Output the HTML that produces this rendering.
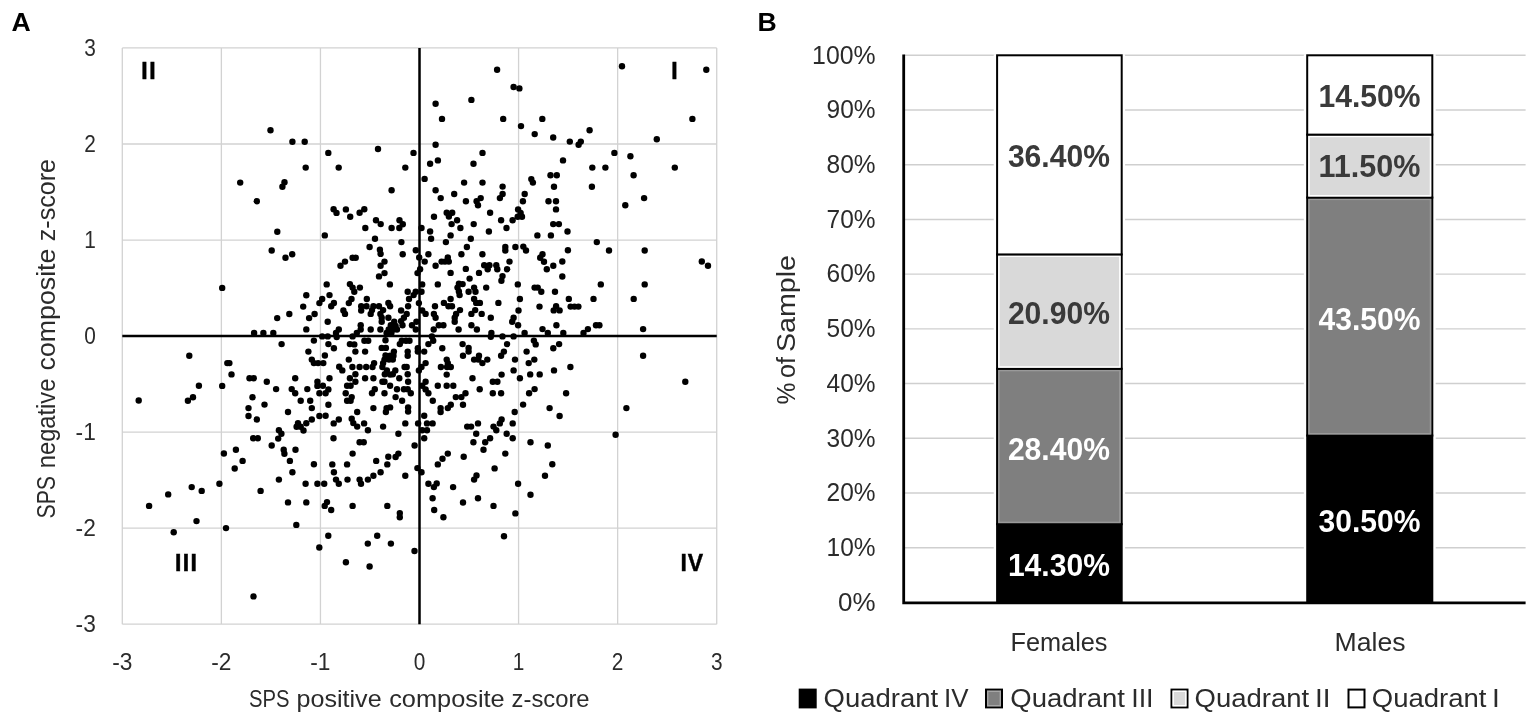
<!DOCTYPE html>
<html lang="en"><head><meta charset="utf-8"><title>Figure</title>
<style>html,body{margin:0;padding:0;background:#fff}svg{display:block}text{font-family:"Liberation Sans","DejaVu Sans",sans-serif}</style></head><body>
<svg width="1535" height="722" viewBox="0 0 1535 722">
<rect width="1535" height="722" fill="#fff"/>
<g id="panelA">
<path d="M122.30 47.95V624.19M122.30 624.19H716.72M221.37 47.95V624.19M122.30 528.15H716.72M320.44 47.95V624.19M122.30 432.11H716.72M518.58 47.95V624.19M122.30 240.03H716.72M617.65 47.95V624.19M122.30 143.99H716.72M716.72 47.95V624.19M122.30 47.95H716.72" stroke="#d2d2d2" stroke-width="1.3" fill="none"/>
<path d="M419.51 47.95V624.19M122.30 336.07H716.72" stroke="#000" stroke-width="2.5" fill="none"/>
<g fill="#000">
<circle cx="270.5" cy="130.2" r="3.2"/><circle cx="292.4" cy="141.8" r="3.2"/><circle cx="304.7" cy="141.8" r="3.2"/><circle cx="497.1" cy="69.8" r="3.2"/><circle cx="513.6" cy="87.0" r="3.2"/><circle cx="519.4" cy="88.4" r="3.2"/><circle cx="471.4" cy="99.9" r="3.2"/><circle cx="435.6" cy="103.8" r="3.2"/><circle cx="442.0" cy="118.9" r="3.2"/><circle cx="503.2" cy="118.9" r="3.2"/><circle cx="542.3" cy="118.9" r="3.2"/><circle cx="521.0" cy="126.1" r="3.2"/><circle cx="534.7" cy="134.1" r="3.2"/><circle cx="553.2" cy="137.5" r="3.2"/><circle cx="569.8" cy="141.6" r="3.2"/><circle cx="580.8" cy="141.6" r="3.2"/><circle cx="578.6" cy="144.7" r="3.2"/><circle cx="589.6" cy="130.2" r="3.2"/><circle cx="435.6" cy="144.7" r="3.2"/><circle cx="622.0" cy="66.3" r="3.2"/><circle cx="706.3" cy="69.8" r="3.2"/><circle cx="692.4" cy="118.9" r="3.2"/><circle cx="656.8" cy="139.2" r="3.2"/><circle cx="305.7" cy="167.6" r="3.2"/><circle cx="240.2" cy="182.6" r="3.2"/><circle cx="284.5" cy="182.3" r="3.2"/><circle cx="282.4" cy="186.8" r="3.2"/><circle cx="256.8" cy="201.2" r="3.2"/><circle cx="277.3" cy="231.7" r="3.2"/><circle cx="328.3" cy="152.9" r="3.2"/><circle cx="378.0" cy="149.0" r="3.2"/><circle cx="413.5" cy="152.9" r="3.2"/><circle cx="338.7" cy="167.6" r="3.2"/><circle cx="405.3" cy="167.6" r="3.2"/><circle cx="391.6" cy="190.3" r="3.2"/><circle cx="333.6" cy="209.2" r="3.2"/><circle cx="336.5" cy="212.9" r="3.2"/><circle cx="345.9" cy="209.4" r="3.2"/><circle cx="350.2" cy="216.7" r="3.2"/><circle cx="359.6" cy="212.7" r="3.2"/><circle cx="364.3" cy="209.2" r="3.2"/><circle cx="376.0" cy="220.2" r="3.2"/><circle cx="380.7" cy="224.1" r="3.2"/><circle cx="365.3" cy="228.0" r="3.2"/><circle cx="391.6" cy="228.0" r="3.2"/><circle cx="399.5" cy="220.2" r="3.2"/><circle cx="402.8" cy="224.3" r="3.2"/><circle cx="399.3" cy="228.0" r="3.2"/><circle cx="324.8" cy="235.4" r="3.2"/><circle cx="375.0" cy="238.7" r="3.2"/><circle cx="401.4" cy="242.1" r="3.2"/><circle cx="482.5" cy="152.9" r="3.2"/><circle cx="437.9" cy="160.4" r="3.2"/><circle cx="430.1" cy="163.7" r="3.2"/><circle cx="473.5" cy="163.7" r="3.2"/><circle cx="424.6" cy="178.9" r="3.2"/><circle cx="464.1" cy="182.6" r="3.2"/><circle cx="482.5" cy="182.6" r="3.2"/><circle cx="502.6" cy="186.6" r="3.2"/><circle cx="435.6" cy="190.3" r="3.2"/><circle cx="454.2" cy="194.0" r="3.2"/><circle cx="502.6" cy="194.0" r="3.2"/><circle cx="440.7" cy="198.1" r="3.2"/><circle cx="480.7" cy="198.1" r="3.2"/><circle cx="499.9" cy="198.1" r="3.2"/><circle cx="465.9" cy="201.2" r="3.2"/><circle cx="476.6" cy="201.2" r="3.2"/><circle cx="478.0" cy="205.3" r="3.2"/><circle cx="446.7" cy="212.7" r="3.2"/><circle cx="452.2" cy="212.7" r="3.2"/><circle cx="448.9" cy="216.5" r="3.2"/><circle cx="490.1" cy="212.7" r="3.2"/><circle cx="434.0" cy="216.7" r="3.2"/><circle cx="457.1" cy="220.2" r="3.2"/><circle cx="451.6" cy="224.1" r="3.2"/><circle cx="473.7" cy="224.1" r="3.2"/><circle cx="501.1" cy="220.2" r="3.2"/><circle cx="512.6" cy="220.2" r="3.2"/><circle cx="460.4" cy="228.0" r="3.2"/><circle cx="506.5" cy="228.0" r="3.2"/><circle cx="421.5" cy="228.0" r="3.2"/><circle cx="430.1" cy="231.5" r="3.2"/><circle cx="488.9" cy="231.5" r="3.2"/><circle cx="450.6" cy="235.4" r="3.2"/><circle cx="431.1" cy="238.7" r="3.2"/><circle cx="470.8" cy="238.7" r="3.2"/><circle cx="445.9" cy="242.1" r="3.2"/><circle cx="518.1" cy="209.4" r="3.2"/><circle cx="520.6" cy="212.9" r="3.2"/><circle cx="517.7" cy="216.7" r="3.2"/><circle cx="522.0" cy="216.7" r="3.2"/><circle cx="563.0" cy="160.4" r="3.2"/><circle cx="614.4" cy="152.9" r="3.2"/><circle cx="592.3" cy="167.6" r="3.2"/><circle cx="605.4" cy="167.6" r="3.2"/><circle cx="550.5" cy="175.2" r="3.2"/><circle cx="556.8" cy="175.2" r="3.2"/><circle cx="531.3" cy="179.1" r="3.2"/><circle cx="532.9" cy="182.6" r="3.2"/><circle cx="554.0" cy="186.8" r="3.2"/><circle cx="591.9" cy="186.8" r="3.2"/><circle cx="524.7" cy="194.0" r="3.2"/><circle cx="522.9" cy="201.2" r="3.2"/><circle cx="548.5" cy="201.2" r="3.2"/><circle cx="556.0" cy="201.2" r="3.2"/><circle cx="556.0" cy="209.4" r="3.2"/><circle cx="553.2" cy="224.1" r="3.2"/><circle cx="558.9" cy="224.1" r="3.2"/><circle cx="567.5" cy="231.5" r="3.2"/><circle cx="537.4" cy="235.4" r="3.2"/><circle cx="550.9" cy="235.4" r="3.2"/><circle cx="596.8" cy="242.1" r="3.2"/><circle cx="630.4" cy="156.3" r="3.2"/><circle cx="674.8" cy="167.6" r="3.2"/><circle cx="633.6" cy="175.2" r="3.2"/><circle cx="644.1" cy="198.1" r="3.2"/><circle cx="625.3" cy="205.3" r="3.2"/><circle cx="271.7" cy="250.5" r="3.2"/><circle cx="285.5" cy="257.8" r="3.2"/><circle cx="292.2" cy="254.3" r="3.2"/><circle cx="222.2" cy="287.9" r="3.2"/><circle cx="306.3" cy="295.2" r="3.2"/><circle cx="303.2" cy="306.6" r="3.2"/><circle cx="289.3" cy="314.0" r="3.2"/><circle cx="277.2" cy="318.1" r="3.2"/><circle cx="309.1" cy="318.1" r="3.2"/><circle cx="314.6" cy="314.0" r="3.2"/><circle cx="319.4" cy="303.1" r="3.2"/><circle cx="306.3" cy="329.4" r="3.2"/><circle cx="254.1" cy="332.9" r="3.2"/><circle cx="263.4" cy="332.9" r="3.2"/><circle cx="273.3" cy="332.9" r="3.2"/><circle cx="369.6" cy="247.0" r="3.2"/><circle cx="379.9" cy="249.8" r="3.2"/><circle cx="380.6" cy="253.9" r="3.2"/><circle cx="402.7" cy="254.2" r="3.2"/><circle cx="415.8" cy="250.2" r="3.2"/><circle cx="384.5" cy="261.6" r="3.2"/><circle cx="380.6" cy="265.7" r="3.2"/><circle cx="384.5" cy="273.1" r="3.2"/><circle cx="379.0" cy="276.4" r="3.2"/><circle cx="417.5" cy="273.1" r="3.2"/><circle cx="419.2" cy="257.4" r="3.2"/><circle cx="352.6" cy="257.7" r="3.2"/><circle cx="355.7" cy="257.7" r="3.2"/><circle cx="345.0" cy="261.6" r="3.2"/><circle cx="340.5" cy="265.7" r="3.2"/><circle cx="326.7" cy="284.4" r="3.2"/><circle cx="349.9" cy="284.1" r="3.2"/><circle cx="352.6" cy="287.6" r="3.2"/><circle cx="354.3" cy="291.8" r="3.2"/><circle cx="359.9" cy="287.6" r="3.2"/><circle cx="389.9" cy="284.4" r="3.2"/><circle cx="329.5" cy="295.1" r="3.2"/><circle cx="322.2" cy="299.0" r="3.2"/><circle cx="333.9" cy="302.9" r="3.2"/><circle cx="331.2" cy="306.3" r="3.2"/><circle cx="351.5" cy="299.0" r="3.2"/><circle cx="348.8" cy="303.1" r="3.2"/><circle cx="366.8" cy="299.0" r="3.2"/><circle cx="407.7" cy="291.8" r="3.2"/><circle cx="415.7" cy="291.8" r="3.2"/><circle cx="413.6" cy="295.1" r="3.2"/><circle cx="409.0" cy="299.0" r="3.2"/><circle cx="418.9" cy="303.1" r="3.2"/><circle cx="388.4" cy="302.9" r="3.2"/><circle cx="390.1" cy="306.3" r="3.2"/><circle cx="361.2" cy="306.3" r="3.2"/><circle cx="366.5" cy="306.3" r="3.2"/><circle cx="373.4" cy="306.3" r="3.2"/><circle cx="379.0" cy="306.3" r="3.2"/><circle cx="361.2" cy="310.5" r="3.2"/><circle cx="372.0" cy="310.1" r="3.2"/><circle cx="370.7" cy="313.9" r="3.2"/><circle cx="383.1" cy="310.1" r="3.2"/><circle cx="380.4" cy="313.9" r="3.2"/><circle cx="381.7" cy="317.7" r="3.2"/><circle cx="381.7" cy="321.8" r="3.2"/><circle cx="388.4" cy="317.7" r="3.2"/><circle cx="343.4" cy="310.5" r="3.2"/><circle cx="345.0" cy="313.9" r="3.2"/><circle cx="401.1" cy="310.5" r="3.2"/><circle cx="408.1" cy="306.3" r="3.2"/><circle cx="406.7" cy="313.9" r="3.2"/><circle cx="403.9" cy="317.7" r="3.2"/><circle cx="401.1" cy="321.1" r="3.2"/><circle cx="402.5" cy="325.3" r="3.2"/><circle cx="327.7" cy="321.8" r="3.2"/><circle cx="360.7" cy="325.3" r="3.2"/><circle cx="360.7" cy="329.5" r="3.2"/><circle cx="370.7" cy="329.5" r="3.2"/><circle cx="380.4" cy="329.5" r="3.2"/><circle cx="338.8" cy="329.5" r="3.2"/><circle cx="336.0" cy="332.9" r="3.2"/><circle cx="356.8" cy="332.9" r="3.2"/><circle cx="412.0" cy="325.3" r="3.2"/><circle cx="416.4" cy="321.8" r="3.2"/><circle cx="415.8" cy="329.5" r="3.2"/><circle cx="394.2" cy="321.8" r="3.2"/><circle cx="390.8" cy="325.3" r="3.2"/><circle cx="395.6" cy="326.0" r="3.2"/><circle cx="388.7" cy="329.5" r="3.2"/><circle cx="393.5" cy="329.5" r="3.2"/><circle cx="397.0" cy="329.5" r="3.2"/><circle cx="386.6" cy="332.9" r="3.2"/><circle cx="391.4" cy="332.9" r="3.2"/><circle cx="322.2" cy="336.4" r="3.2"/><circle cx="327.7" cy="336.4" r="3.2"/><circle cx="352.6" cy="336.4" r="3.2"/><circle cx="466.9" cy="247.0" r="3.2"/><circle cx="505.3" cy="247.0" r="3.2"/><circle cx="505.3" cy="250.5" r="3.2"/><circle cx="515.4" cy="247.0" r="3.2"/><circle cx="428.4" cy="254.2" r="3.2"/><circle cx="461.4" cy="254.2" r="3.2"/><circle cx="482.4" cy="254.2" r="3.2"/><circle cx="447.8" cy="257.4" r="3.2"/><circle cx="424.7" cy="261.6" r="3.2"/><circle cx="441.6" cy="261.6" r="3.2"/><circle cx="445.0" cy="261.6" r="3.2"/><circle cx="448.8" cy="261.6" r="3.2"/><circle cx="509.5" cy="261.6" r="3.2"/><circle cx="435.6" cy="265.7" r="3.2"/><circle cx="484.2" cy="265.3" r="3.2"/><circle cx="489.4" cy="265.3" r="3.2"/><circle cx="487.7" cy="269.2" r="3.2"/><circle cx="496.3" cy="265.3" r="3.2"/><circle cx="497.3" cy="269.2" r="3.2"/><circle cx="507.1" cy="269.2" r="3.2"/><circle cx="420.1" cy="269.2" r="3.2"/><circle cx="465.8" cy="268.9" r="3.2"/><circle cx="450.6" cy="272.9" r="3.2"/><circle cx="479.0" cy="272.9" r="3.2"/><circle cx="502.5" cy="276.1" r="3.2"/><circle cx="501.4" cy="280.7" r="3.2"/><circle cx="469.6" cy="278.6" r="3.2"/><circle cx="422.2" cy="284.4" r="3.2"/><circle cx="437.8" cy="284.4" r="3.2"/><circle cx="458.9" cy="283.7" r="3.2"/><circle cx="462.6" cy="284.1" r="3.2"/><circle cx="457.5" cy="287.6" r="3.2"/><circle cx="458.9" cy="291.4" r="3.2"/><circle cx="459.6" cy="295.1" r="3.2"/><circle cx="474.1" cy="287.6" r="3.2"/><circle cx="475.5" cy="291.8" r="3.2"/><circle cx="468.6" cy="291.8" r="3.2"/><circle cx="486.2" cy="287.6" r="3.2"/><circle cx="517.8" cy="284.4" r="3.2"/><circle cx="421.5" cy="291.8" r="3.2"/><circle cx="450.6" cy="299.0" r="3.2"/><circle cx="474.1" cy="299.0" r="3.2"/><circle cx="476.2" cy="302.9" r="3.2"/><circle cx="479.9" cy="302.9" r="3.2"/><circle cx="498.4" cy="302.9" r="3.2"/><circle cx="443.9" cy="302.9" r="3.2"/><circle cx="435.0" cy="306.3" r="3.2"/><circle cx="448.5" cy="306.3" r="3.2"/><circle cx="452.0" cy="306.3" r="3.2"/><circle cx="460.0" cy="310.1" r="3.2"/><circle cx="475.2" cy="310.1" r="3.2"/><circle cx="471.4" cy="313.9" r="3.2"/><circle cx="481.7" cy="313.9" r="3.2"/><circle cx="456.1" cy="313.9" r="3.2"/><circle cx="454.7" cy="317.7" r="3.2"/><circle cx="454.7" cy="321.8" r="3.2"/><circle cx="433.9" cy="313.9" r="3.2"/><circle cx="435.6" cy="317.7" r="3.2"/><circle cx="422.2" cy="310.5" r="3.2"/><circle cx="425.6" cy="313.9" r="3.2"/><circle cx="490.8" cy="317.7" r="3.2"/><circle cx="513.6" cy="317.7" r="3.2"/><circle cx="512.2" cy="321.8" r="3.2"/><circle cx="518.5" cy="310.5" r="3.2"/><circle cx="518.1" cy="325.3" r="3.2"/><circle cx="438.8" cy="325.3" r="3.2"/><circle cx="443.4" cy="325.3" r="3.2"/><circle cx="433.7" cy="329.5" r="3.2"/><circle cx="458.6" cy="329.5" r="3.2"/><circle cx="471.4" cy="325.3" r="3.2"/><circle cx="476.9" cy="329.5" r="3.2"/><circle cx="491.4" cy="332.9" r="3.2"/><circle cx="431.9" cy="336.4" r="3.2"/><circle cx="502.5" cy="336.4" r="3.2"/><circle cx="513.6" cy="336.4" r="3.2"/><circle cx="519.9" cy="299.0" r="3.2"/><circle cx="609.0" cy="250.5" r="3.2"/><circle cx="567.9" cy="250.2" r="3.2"/><circle cx="523.3" cy="246.6" r="3.2"/><circle cx="526.0" cy="250.5" r="3.2"/><circle cx="542.5" cy="254.2" r="3.2"/><circle cx="540.2" cy="257.8" r="3.2"/><circle cx="544.0" cy="261.8" r="3.2"/><circle cx="562.3" cy="261.5" r="3.2"/><circle cx="553.3" cy="265.7" r="3.2"/><circle cx="546.8" cy="269.2" r="3.2"/><circle cx="562.3" cy="276.5" r="3.2"/><circle cx="600.8" cy="284.4" r="3.2"/><circle cx="534.6" cy="287.6" r="3.2"/><circle cx="537.7" cy="287.6" r="3.2"/><circle cx="541.3" cy="291.7" r="3.2"/><circle cx="555.0" cy="291.7" r="3.2"/><circle cx="568.8" cy="298.9" r="3.2"/><circle cx="593.5" cy="298.9" r="3.2"/><circle cx="539.5" cy="306.6" r="3.2"/><circle cx="556.1" cy="306.3" r="3.2"/><circle cx="553.7" cy="310.4" r="3.2"/><circle cx="559.6" cy="310.4" r="3.2"/><circle cx="570.6" cy="306.6" r="3.2"/><circle cx="574.5" cy="306.6" r="3.2"/><circle cx="578.4" cy="306.6" r="3.2"/><circle cx="556.4" cy="325.3" r="3.2"/><circle cx="596.0" cy="325.3" r="3.2"/><circle cx="599.4" cy="325.3" r="3.2"/><circle cx="587.9" cy="329.1" r="3.2"/><circle cx="583.5" cy="332.9" r="3.2"/><circle cx="542.5" cy="329.1" r="3.2"/><circle cx="547.8" cy="332.9" r="3.2"/><circle cx="563.3" cy="332.9" r="3.2"/><circle cx="524.6" cy="332.9" r="3.2"/><circle cx="644.7" cy="250.5" r="3.2"/><circle cx="701.8" cy="261.5" r="3.2"/><circle cx="708.0" cy="265.7" r="3.2"/><circle cx="644.7" cy="284.4" r="3.2"/><circle cx="633.7" cy="298.9" r="3.2"/><circle cx="643.1" cy="329.1" r="3.2"/><circle cx="189.3" cy="355.7" r="3.2"/><circle cx="138.7" cy="400.5" r="3.2"/><circle cx="198.9" cy="385.7" r="3.2"/><circle cx="193.0" cy="397.3" r="3.2"/><circle cx="187.9" cy="400.8" r="3.2"/><circle cx="222.2" cy="385.9" r="3.2"/><circle cx="227.3" cy="363.1" r="3.2"/><circle cx="229.4" cy="363.1" r="3.2"/><circle cx="231.5" cy="374.4" r="3.2"/><circle cx="249.5" cy="378.3" r="3.2"/><circle cx="253.7" cy="378.3" r="3.2"/><circle cx="266.8" cy="381.8" r="3.2"/><circle cx="281.6" cy="344.1" r="3.2"/><circle cx="313.9" cy="340.6" r="3.2"/><circle cx="308.4" cy="351.6" r="3.2"/><circle cx="311.8" cy="359.6" r="3.2"/><circle cx="313.9" cy="363.1" r="3.2"/><circle cx="318.1" cy="363.1" r="3.2"/><circle cx="295.2" cy="378.3" r="3.2"/><circle cx="276.1" cy="389.1" r="3.2"/><circle cx="291.7" cy="389.1" r="3.2"/><circle cx="295.2" cy="393.3" r="3.2"/><circle cx="307.3" cy="389.1" r="3.2"/><circle cx="317.4" cy="381.8" r="3.2"/><circle cx="317.4" cy="385.9" r="3.2"/><circle cx="319.4" cy="393.3" r="3.2"/><circle cx="252.5" cy="397.3" r="3.2"/><circle cx="264.5" cy="404.6" r="3.2"/><circle cx="248.5" cy="408.1" r="3.2"/><circle cx="248.5" cy="416.0" r="3.2"/><circle cx="256.8" cy="419.5" r="3.2"/><circle cx="300.7" cy="400.8" r="3.2"/><circle cx="310.2" cy="400.8" r="3.2"/><circle cx="311.8" cy="408.1" r="3.2"/><circle cx="288.0" cy="412.0" r="3.2"/><circle cx="311.8" cy="419.5" r="3.2"/><circle cx="319.4" cy="416.0" r="3.2"/><circle cx="306.3" cy="423.3" r="3.2"/><circle cx="298.0" cy="423.1" r="3.2"/><circle cx="296.6" cy="426.8" r="3.2"/><circle cx="300.7" cy="426.8" r="3.2"/><circle cx="303.5" cy="430.5" r="3.2"/><circle cx="278.9" cy="430.3" r="3.2"/><circle cx="281.4" cy="433.7" r="3.2"/><circle cx="336.7" cy="337.0" r="3.2"/><circle cx="364.4" cy="340.7" r="3.2"/><circle cx="368.2" cy="340.7" r="3.2"/><circle cx="385.5" cy="340.2" r="3.2"/><circle cx="401.8" cy="340.7" r="3.2"/><circle cx="406.0" cy="340.7" r="3.2"/><circle cx="409.5" cy="340.7" r="3.2"/><circle cx="328.4" cy="344.1" r="3.2"/><circle cx="349.9" cy="344.1" r="3.2"/><circle cx="354.3" cy="344.4" r="3.2"/><circle cx="399.8" cy="344.1" r="3.2"/><circle cx="333.9" cy="348.3" r="3.2"/><circle cx="381.7" cy="347.9" r="3.2"/><circle cx="385.9" cy="347.9" r="3.2"/><circle cx="417.8" cy="348.3" r="3.2"/><circle cx="355.4" cy="351.6" r="3.2"/><circle cx="365.1" cy="351.6" r="3.2"/><circle cx="393.9" cy="351.6" r="3.2"/><circle cx="407.7" cy="351.6" r="3.2"/><circle cx="417.8" cy="351.6" r="3.2"/><circle cx="324.9" cy="355.5" r="3.2"/><circle cx="385.5" cy="355.5" r="3.2"/><circle cx="390.1" cy="355.8" r="3.2"/><circle cx="393.5" cy="355.8" r="3.2"/><circle cx="407.7" cy="355.8" r="3.2"/><circle cx="348.8" cy="359.6" r="3.2"/><circle cx="384.5" cy="359.6" r="3.2"/><circle cx="389.0" cy="359.6" r="3.2"/><circle cx="392.8" cy="359.6" r="3.2"/><circle cx="323.3" cy="363.1" r="3.2"/><circle cx="374.1" cy="363.1" r="3.2"/><circle cx="383.1" cy="363.1" r="3.2"/><circle cx="339.2" cy="366.8" r="3.2"/><circle cx="352.4" cy="367.0" r="3.2"/><circle cx="359.6" cy="367.0" r="3.2"/><circle cx="366.2" cy="367.0" r="3.2"/><circle cx="372.5" cy="367.0" r="3.2"/><circle cx="382.4" cy="367.0" r="3.2"/><circle cx="404.6" cy="367.0" r="3.2"/><circle cx="406.7" cy="367.0" r="3.2"/><circle cx="342.3" cy="370.4" r="3.2"/><circle cx="386.9" cy="370.4" r="3.2"/><circle cx="395.3" cy="370.4" r="3.2"/><circle cx="418.9" cy="370.4" r="3.2"/><circle cx="355.4" cy="374.2" r="3.2"/><circle cx="384.8" cy="374.2" r="3.2"/><circle cx="390.1" cy="374.6" r="3.2"/><circle cx="392.8" cy="374.2" r="3.2"/><circle cx="407.7" cy="374.2" r="3.2"/><circle cx="329.5" cy="378.3" r="3.2"/><circle cx="349.9" cy="378.3" r="3.2"/><circle cx="365.1" cy="378.3" r="3.2"/><circle cx="373.4" cy="378.3" r="3.2"/><circle cx="399.3" cy="378.3" r="3.2"/><circle cx="355.4" cy="381.8" r="3.2"/><circle cx="382.4" cy="381.8" r="3.2"/><circle cx="384.5" cy="381.8" r="3.2"/><circle cx="408.1" cy="381.8" r="3.2"/><circle cx="322.9" cy="385.7" r="3.2"/><circle cx="347.1" cy="385.7" r="3.2"/><circle cx="350.6" cy="385.7" r="3.2"/><circle cx="390.1" cy="385.7" r="3.2"/><circle cx="328.4" cy="389.4" r="3.2"/><circle cx="374.8" cy="389.2" r="3.2"/><circle cx="397.0" cy="389.2" r="3.2"/><circle cx="403.9" cy="389.2" r="3.2"/><circle cx="407.7" cy="389.2" r="3.2"/><circle cx="325.6" cy="393.3" r="3.2"/><circle cx="345.7" cy="393.3" r="3.2"/><circle cx="372.0" cy="393.3" r="3.2"/><circle cx="384.5" cy="393.3" r="3.2"/><circle cx="410.8" cy="393.3" r="3.2"/><circle cx="351.7" cy="397.1" r="3.2"/><circle cx="395.6" cy="397.1" r="3.2"/><circle cx="347.1" cy="400.8" r="3.2"/><circle cx="350.6" cy="400.8" r="3.2"/><circle cx="402.1" cy="400.8" r="3.2"/><circle cx="328.4" cy="404.7" r="3.2"/><circle cx="373.4" cy="408.1" r="3.2"/><circle cx="386.6" cy="408.1" r="3.2"/><circle cx="390.1" cy="407.4" r="3.2"/><circle cx="408.1" cy="407.4" r="3.2"/><circle cx="357.2" cy="412.0" r="3.2"/><circle cx="385.9" cy="412.0" r="3.2"/><circle cx="408.1" cy="411.6" r="3.2"/><circle cx="325.6" cy="415.8" r="3.2"/><circle cx="338.8" cy="419.5" r="3.2"/><circle cx="351.7" cy="418.8" r="3.2"/><circle cx="333.7" cy="423.4" r="3.2"/><circle cx="353.3" cy="423.1" r="3.2"/><circle cx="364.1" cy="423.4" r="3.2"/><circle cx="405.3" cy="423.4" r="3.2"/><circle cx="418.1" cy="423.4" r="3.2"/><circle cx="357.2" cy="426.6" r="3.2"/><circle cx="383.1" cy="426.6" r="3.2"/><circle cx="367.9" cy="430.3" r="3.2"/><circle cx="398.4" cy="433.8" r="3.2"/><circle cx="433.2" cy="340.7" r="3.2"/><circle cx="490.8" cy="336.8" r="3.2"/><circle cx="428.4" cy="344.1" r="3.2"/><circle cx="462.6" cy="344.1" r="3.2"/><circle cx="507.1" cy="344.1" r="3.2"/><circle cx="442.3" cy="348.3" r="3.2"/><circle cx="468.6" cy="347.9" r="3.2"/><circle cx="468.6" cy="351.6" r="3.2"/><circle cx="424.2" cy="351.6" r="3.2"/><circle cx="503.9" cy="351.6" r="3.2"/><circle cx="463.0" cy="355.8" r="3.2"/><circle cx="479.0" cy="355.8" r="3.2"/><circle cx="501.1" cy="355.8" r="3.2"/><circle cx="446.7" cy="359.6" r="3.2"/><circle cx="474.1" cy="359.6" r="3.2"/><circle cx="478.3" cy="359.6" r="3.2"/><circle cx="487.3" cy="359.6" r="3.2"/><circle cx="515.0" cy="359.6" r="3.2"/><circle cx="425.6" cy="363.1" r="3.2"/><circle cx="447.8" cy="363.1" r="3.2"/><circle cx="482.4" cy="363.1" r="3.2"/><circle cx="421.5" cy="367.0" r="3.2"/><circle cx="440.9" cy="367.0" r="3.2"/><circle cx="447.1" cy="367.0" r="3.2"/><circle cx="450.8" cy="367.0" r="3.2"/><circle cx="513.6" cy="370.4" r="3.2"/><circle cx="446.7" cy="374.6" r="3.2"/><circle cx="501.6" cy="374.6" r="3.2"/><circle cx="472.5" cy="378.3" r="3.2"/><circle cx="519.9" cy="378.3" r="3.2"/><circle cx="425.6" cy="381.8" r="3.2"/><circle cx="492.8" cy="381.8" r="3.2"/><circle cx="497.4" cy="381.8" r="3.2"/><circle cx="422.2" cy="385.7" r="3.2"/><circle cx="437.8" cy="385.7" r="3.2"/><circle cx="446.7" cy="385.7" r="3.2"/><circle cx="453.3" cy="385.7" r="3.2"/><circle cx="425.6" cy="389.4" r="3.2"/><circle cx="479.7" cy="389.2" r="3.2"/><circle cx="428.4" cy="393.3" r="3.2"/><circle cx="465.5" cy="393.3" r="3.2"/><circle cx="492.8" cy="393.3" r="3.2"/><circle cx="501.1" cy="393.3" r="3.2"/><circle cx="455.8" cy="397.1" r="3.2"/><circle cx="461.4" cy="397.1" r="3.2"/><circle cx="432.8" cy="400.8" r="3.2"/><circle cx="450.8" cy="404.7" r="3.2"/><circle cx="463.0" cy="404.7" r="3.2"/><circle cx="440.6" cy="408.1" r="3.2"/><circle cx="447.8" cy="408.1" r="3.2"/><circle cx="440.6" cy="412.0" r="3.2"/><circle cx="514.7" cy="412.0" r="3.2"/><circle cx="424.2" cy="415.8" r="3.2"/><circle cx="501.6" cy="419.5" r="3.2"/><circle cx="427.0" cy="423.4" r="3.2"/><circle cx="432.6" cy="423.4" r="3.2"/><circle cx="478.0" cy="423.4" r="3.2"/><circle cx="499.8" cy="423.4" r="3.2"/><circle cx="512.7" cy="423.4" r="3.2"/><circle cx="467.2" cy="426.6" r="3.2"/><circle cx="471.1" cy="426.6" r="3.2"/><circle cx="493.5" cy="426.6" r="3.2"/><circle cx="422.2" cy="430.3" r="3.2"/><circle cx="427.0" cy="430.3" r="3.2"/><circle cx="496.3" cy="430.3" r="3.2"/><circle cx="476.2" cy="433.8" r="3.2"/><circle cx="506.7" cy="433.8" r="3.2"/><circle cx="533.9" cy="340.6" r="3.2"/><circle cx="535.7" cy="344.4" r="3.2"/><circle cx="559.1" cy="344.1" r="3.2"/><circle cx="553.3" cy="348.3" r="3.2"/><circle cx="526.6" cy="351.6" r="3.2"/><circle cx="534.3" cy="359.6" r="3.2"/><circle cx="528.7" cy="363.1" r="3.2"/><circle cx="570.4" cy="367.0" r="3.2"/><circle cx="554.0" cy="370.4" r="3.2"/><circle cx="530.2" cy="374.4" r="3.2"/><circle cx="539.7" cy="374.4" r="3.2"/><circle cx="534.6" cy="389.1" r="3.2"/><circle cx="529.1" cy="393.3" r="3.2"/><circle cx="566.1" cy="393.3" r="3.2"/><circle cx="523.1" cy="404.6" r="3.2"/><circle cx="549.6" cy="408.1" r="3.2"/><circle cx="559.6" cy="416.0" r="3.2"/><circle cx="643.1" cy="355.7" r="3.2"/><circle cx="685.3" cy="381.8" r="3.2"/><circle cx="626.4" cy="408.1" r="3.2"/><circle cx="615.6" cy="434.8" r="3.2"/><circle cx="149.1" cy="505.9" r="3.2"/><circle cx="168.2" cy="494.4" r="3.2"/><circle cx="191.7" cy="487.1" r="3.2"/><circle cx="201.7" cy="490.9" r="3.2"/><circle cx="219.4" cy="483.7" r="3.2"/><circle cx="196.5" cy="521.1" r="3.2"/><circle cx="223.9" cy="453.5" r="3.2"/><circle cx="235.9" cy="449.7" r="3.2"/><circle cx="242.6" cy="460.9" r="3.2"/><circle cx="234.7" cy="468.5" r="3.2"/><circle cx="253.2" cy="438.3" r="3.2"/><circle cx="257.8" cy="438.3" r="3.2"/><circle cx="278.2" cy="438.6" r="3.2"/><circle cx="271.7" cy="445.5" r="3.2"/><circle cx="283.7" cy="449.7" r="3.2"/><circle cx="284.4" cy="453.8" r="3.2"/><circle cx="295.5" cy="449.7" r="3.2"/><circle cx="289.9" cy="460.9" r="3.2"/><circle cx="313.9" cy="464.3" r="3.2"/><circle cx="292.4" cy="472.2" r="3.2"/><circle cx="278.9" cy="479.6" r="3.2"/><circle cx="305.6" cy="483.7" r="3.2"/><circle cx="317.4" cy="483.7" r="3.2"/><circle cx="260.6" cy="490.9" r="3.2"/><circle cx="288.0" cy="502.4" r="3.2"/><circle cx="306.3" cy="502.4" r="3.2"/><circle cx="296.3" cy="524.9" r="3.2"/><circle cx="226.0" cy="528.1" r="3.2"/><circle cx="173.7" cy="532.2" r="3.2"/><circle cx="333.5" cy="438.3" r="3.2"/><circle cx="359.6" cy="442.2" r="3.2"/><circle cx="363.7" cy="442.2" r="3.2"/><circle cx="414.6" cy="445.5" r="3.2"/><circle cx="352.6" cy="453.6" r="3.2"/><circle cx="398.4" cy="453.6" r="3.2"/><circle cx="395.6" cy="457.0" r="3.2"/><circle cx="388.3" cy="456.7" r="3.2"/><circle cx="376.2" cy="460.9" r="3.2"/><circle cx="387.3" cy="464.4" r="3.2"/><circle cx="332.3" cy="464.4" r="3.2"/><circle cx="347.1" cy="464.4" r="3.2"/><circle cx="417.4" cy="468.1" r="3.2"/><circle cx="333.9" cy="472.3" r="3.2"/><circle cx="380.6" cy="472.3" r="3.2"/><circle cx="373.4" cy="475.7" r="3.2"/><circle cx="405.3" cy="475.7" r="3.2"/><circle cx="336.0" cy="479.6" r="3.2"/><circle cx="347.5" cy="479.6" r="3.2"/><circle cx="359.6" cy="479.6" r="3.2"/><circle cx="367.9" cy="479.6" r="3.2"/><circle cx="361.0" cy="483.8" r="3.2"/><circle cx="338.8" cy="483.8" r="3.2"/><circle cx="324.2" cy="483.8" r="3.2"/><circle cx="327.0" cy="502.1" r="3.2"/><circle cx="324.7" cy="505.9" r="3.2"/><circle cx="331.2" cy="510.0" r="3.2"/><circle cx="352.6" cy="505.9" r="3.2"/><circle cx="387.3" cy="505.9" r="3.2"/><circle cx="399.8" cy="513.1" r="3.2"/><circle cx="399.8" cy="517.3" r="3.2"/><circle cx="424.2" cy="438.3" r="3.2"/><circle cx="512.7" cy="438.3" r="3.2"/><circle cx="490.1" cy="438.3" r="3.2"/><circle cx="485.2" cy="442.2" r="3.2"/><circle cx="473.4" cy="442.2" r="3.2"/><circle cx="483.5" cy="449.7" r="3.2"/><circle cx="505.3" cy="453.6" r="3.2"/><circle cx="447.8" cy="453.6" r="3.2"/><circle cx="442.5" cy="458.8" r="3.2"/><circle cx="437.8" cy="464.4" r="3.2"/><circle cx="463.7" cy="456.7" r="3.2"/><circle cx="494.6" cy="468.4" r="3.2"/><circle cx="421.5" cy="472.3" r="3.2"/><circle cx="476.5" cy="475.5" r="3.2"/><circle cx="474.1" cy="479.6" r="3.2"/><circle cx="428.4" cy="483.8" r="3.2"/><circle cx="436.7" cy="483.4" r="3.2"/><circle cx="433.9" cy="487.1" r="3.2"/><circle cx="453.1" cy="487.1" r="3.2"/><circle cx="518.1" cy="483.8" r="3.2"/><circle cx="432.6" cy="498.3" r="3.2"/><circle cx="478.0" cy="498.3" r="3.2"/><circle cx="463.0" cy="502.5" r="3.2"/><circle cx="493.5" cy="505.9" r="3.2"/><circle cx="434.2" cy="510.0" r="3.2"/><circle cx="515.4" cy="513.4" r="3.2"/><circle cx="443.4" cy="517.3" r="3.2"/><circle cx="530.5" cy="442.2" r="3.2"/><circle cx="547.8" cy="445.5" r="3.2"/><circle cx="552.3" cy="464.3" r="3.2"/><circle cx="545.0" cy="475.7" r="3.2"/><circle cx="530.5" cy="494.7" r="3.2"/><circle cx="253.5" cy="596.4" r="3.2"/><circle cx="319.3" cy="547.5" r="3.2"/><circle cx="328.3" cy="535.8" r="3.2"/><circle cx="377.2" cy="535.8" r="3.2"/><circle cx="367.8" cy="543.6" r="3.2"/><circle cx="390.9" cy="543.6" r="3.2"/><circle cx="414.5" cy="551.0" r="3.2"/><circle cx="345.9" cy="562.3" r="3.2"/><circle cx="369.6" cy="566.5" r="3.2"/><circle cx="504.0" cy="536.2" r="3.2"/>
</g>
<text x="95.8" y="632.2" font-size="24.5" text-anchor="end" fill="#2b2b2b" textLength="20.2" lengthAdjust="spacingAndGlyphs">-3</text>
<text x="95.8" y="536.2" font-size="24.5" text-anchor="end" fill="#2b2b2b" textLength="20.2" lengthAdjust="spacingAndGlyphs">-2</text>
<text x="95.8" y="440.1" font-size="24.5" text-anchor="end" fill="#2b2b2b" textLength="20.2" lengthAdjust="spacingAndGlyphs">-1</text>
<text x="95.8" y="344.1" font-size="24.5" text-anchor="end" fill="#2b2b2b" textLength="11.6" lengthAdjust="spacingAndGlyphs">0</text>
<text x="95.8" y="248.0" font-size="24.5" text-anchor="end" fill="#2b2b2b" textLength="11.6" lengthAdjust="spacingAndGlyphs">1</text>
<text x="95.8" y="152.0" font-size="24.5" text-anchor="end" fill="#2b2b2b" textLength="11.6" lengthAdjust="spacingAndGlyphs">2</text>
<text x="95.8" y="56.0" font-size="24.5" text-anchor="end" fill="#2b2b2b" textLength="11.6" lengthAdjust="spacingAndGlyphs">3</text>
<text x="122.3" y="669.6" font-size="24.5" text-anchor="middle" fill="#2b2b2b" textLength="20.2" lengthAdjust="spacingAndGlyphs">-3</text>
<text x="221.4" y="669.6" font-size="24.5" text-anchor="middle" fill="#2b2b2b" textLength="20.2" lengthAdjust="spacingAndGlyphs">-2</text>
<text x="320.4" y="669.6" font-size="24.5" text-anchor="middle" fill="#2b2b2b" textLength="20.2" lengthAdjust="spacingAndGlyphs">-1</text>
<text x="419.5" y="669.6" font-size="24.5" text-anchor="middle" fill="#2b2b2b" textLength="11.6" lengthAdjust="spacingAndGlyphs">0</text>
<text x="518.6" y="669.6" font-size="24.5" text-anchor="middle" fill="#2b2b2b" textLength="11.6" lengthAdjust="spacingAndGlyphs">1</text>
<text x="617.6" y="669.6" font-size="24.5" text-anchor="middle" fill="#2b2b2b" textLength="11.6" lengthAdjust="spacingAndGlyphs">2</text>
<text x="716.7" y="669.6" font-size="24.5" text-anchor="middle" fill="#2b2b2b" textLength="11.6" lengthAdjust="spacingAndGlyphs">3</text>
<text y="707.4" font-size="24" fill="#2b2b2b"><tspan x="248.9" textLength="40.5" lengthAdjust="spacingAndGlyphs">SPS</tspan> <tspan x="296.6" textLength="85.0" lengthAdjust="spacingAndGlyphs">positive</tspan> <tspan x="389.2" textLength="115.5" lengthAdjust="spacingAndGlyphs">composite</tspan> <tspan x="511.6" textLength="78.0" lengthAdjust="spacingAndGlyphs">z-score</tspan></text>
<text y="517.7" font-size="25" fill="#2b2b2b" transform="rotate(-90 55.4 517.7)"><tspan x="54.5" textLength="42.7" lengthAdjust="spacingAndGlyphs">SPS</tspan> <tspan x="104.9" textLength="89.6" lengthAdjust="spacingAndGlyphs">negative</tspan> <tspan x="202.7" textLength="121.8" lengthAdjust="spacingAndGlyphs">composite</tspan> <tspan x="331.9" textLength="82.3" lengthAdjust="spacingAndGlyphs">z-score</tspan></text>
<text x="141.3" y="78.9" font-size="23" text-anchor="start" fill="#000" font-weight="bold" letter-spacing="1.6" stroke="#000" stroke-width="0.5">II</text>
<text x="671.2" y="78.9" font-size="23" text-anchor="start" fill="#000" font-weight="bold" stroke="#000" stroke-width="0.5">I</text>
<text x="175.1" y="570.8" font-size="23" text-anchor="start" fill="#000" font-weight="bold" letter-spacing="1.3" stroke="#000" stroke-width="0.5">III</text>
<text x="680.4" y="570.8" font-size="23" text-anchor="start" fill="#000" font-weight="bold" letter-spacing="1" stroke="#000" stroke-width="0.4">IV</text>
<text x="11.6" y="31.3" font-size="26.6" text-anchor="start" fill="#000" font-weight="bold">A</text>
</g>
<g id="panelB">
<path d="M903.7 547.69H1525.6M903.7 492.98H1525.6M903.7 438.27H1525.6M903.7 383.56H1525.6M903.7 328.85H1525.6M903.7 274.14H1525.6M903.7 219.43H1525.6M903.7 164.72H1525.6M903.7 110.01H1525.6M903.7 55.30H1525.6" stroke="#cfcfcf" stroke-width="1.4" fill="none"/>
<rect x="993.7" y="54.3" width="131.4" height="548.1" fill="#fff"/>
<rect x="997.1" y="524.16" width="124.6" height="78.24" fill="#000000" stroke="#000" stroke-width="2"/>
<rect x="997.1" y="368.79" width="124.6" height="155.38" fill="#7f7f7f" stroke="#000" stroke-width="2"/>
<rect x="998.9" y="370.59" width="121.0" height="151.78" fill="none" stroke="#9a9a9a" stroke-width="1.5"/>
<rect x="997.1" y="254.44" width="124.6" height="114.34" fill="#d9d9d9" stroke="#000" stroke-width="2"/>
<rect x="998.9" y="256.24" width="121.0" height="110.74" fill="none" stroke="#ffffff" stroke-width="1.5"/>
<rect x="997.1" y="55.30" width="124.6" height="199.14" fill="#ffffff" stroke="#000" stroke-width="2"/>
<rect x="1303.8" y="54.3" width="131.9" height="548.1" fill="#fff"/>
<rect x="1307.2" y="435.53" width="125.1" height="166.87" fill="#000000" stroke="#000" stroke-width="2"/>
<rect x="1307.2" y="197.55" width="125.1" height="237.99" fill="#7f7f7f" stroke="#000" stroke-width="2"/>
<rect x="1309.0" y="199.35" width="121.5" height="234.39" fill="none" stroke="#9a9a9a" stroke-width="1.5"/>
<rect x="1307.2" y="134.63" width="125.1" height="62.92" fill="#d9d9d9" stroke="#000" stroke-width="2"/>
<rect x="1309.0" y="136.43" width="121.5" height="59.32" fill="none" stroke="#ffffff" stroke-width="1.5"/>
<rect x="1307.2" y="55.30" width="125.1" height="79.33" fill="#ffffff" stroke="#000" stroke-width="2"/>
<path d="M903.7 54.6V602.9H1525.6" stroke="#000" stroke-width="2.8" fill="none"/>
<text x="875.6" y="610.7" font-size="25.5" text-anchor="end" fill="#2b2b2b" textLength="37.5" lengthAdjust="spacingAndGlyphs">0%</text>
<text x="875.6" y="556.0" font-size="25.5" text-anchor="end" fill="#2b2b2b" textLength="49.0" lengthAdjust="spacingAndGlyphs">10%</text>
<text x="875.6" y="501.3" font-size="25.5" text-anchor="end" fill="#2b2b2b" textLength="49.0" lengthAdjust="spacingAndGlyphs">20%</text>
<text x="875.6" y="446.6" font-size="25.5" text-anchor="end" fill="#2b2b2b" textLength="49.0" lengthAdjust="spacingAndGlyphs">30%</text>
<text x="875.6" y="391.9" font-size="25.5" text-anchor="end" fill="#2b2b2b" textLength="49.0" lengthAdjust="spacingAndGlyphs">40%</text>
<text x="875.6" y="337.1" font-size="25.5" text-anchor="end" fill="#2b2b2b" textLength="49.0" lengthAdjust="spacingAndGlyphs">50%</text>
<text x="875.6" y="282.4" font-size="25.5" text-anchor="end" fill="#2b2b2b" textLength="49.0" lengthAdjust="spacingAndGlyphs">60%</text>
<text x="875.6" y="227.7" font-size="25.5" text-anchor="end" fill="#2b2b2b" textLength="49.0" lengthAdjust="spacingAndGlyphs">70%</text>
<text x="875.6" y="173.0" font-size="25.5" text-anchor="end" fill="#2b2b2b" textLength="49.0" lengthAdjust="spacingAndGlyphs">80%</text>
<text x="875.6" y="118.3" font-size="25.5" text-anchor="end" fill="#2b2b2b" textLength="49.0" lengthAdjust="spacingAndGlyphs">90%</text>
<text x="875.6" y="63.6" font-size="25.5" text-anchor="end" fill="#2b2b2b" textLength="63.5" lengthAdjust="spacingAndGlyphs">100%</text>
<text y="403.5" font-size="25.5" fill="#2b2b2b" transform="rotate(-90 795.4 403.5)"><tspan x="794.5" textLength="22.0" lengthAdjust="spacingAndGlyphs">%</tspan> <tspan x="821.0" textLength="20.9" lengthAdjust="spacingAndGlyphs">of</tspan> <tspan x="846.8" textLength="97.1" lengthAdjust="spacingAndGlyphs">Sample</tspan></text>
<text x="1058.9" y="167.2" font-size="30.5" text-anchor="middle" fill="#3a3a3a" font-weight="bold" textLength="102.0" lengthAdjust="spacingAndGlyphs">36.40%</text>
<text x="1058.9" y="324.0" font-size="30.5" text-anchor="middle" fill="#3a3a3a" font-weight="bold" textLength="102.0" lengthAdjust="spacingAndGlyphs">20.90%</text>
<text x="1058.9" y="460.0" font-size="30.5" text-anchor="middle" fill="#ffffff" font-weight="bold" textLength="102.0" lengthAdjust="spacingAndGlyphs">28.40%</text>
<text x="1058.9" y="576.0" font-size="30.5" text-anchor="middle" fill="#ffffff" font-weight="bold" textLength="102.0" lengthAdjust="spacingAndGlyphs">14.30%</text>
<text x="1369.5" y="107.0" font-size="30.5" text-anchor="middle" fill="#3a3a3a" font-weight="bold" textLength="102.0" lengthAdjust="spacingAndGlyphs">14.50%</text>
<text x="1369.5" y="177.3" font-size="30.5" text-anchor="middle" fill="#3a3a3a" font-weight="bold" textLength="102.0" lengthAdjust="spacingAndGlyphs">11.50%</text>
<text x="1369.5" y="330.0" font-size="30.5" text-anchor="middle" fill="#ffffff" font-weight="bold" textLength="102.0" lengthAdjust="spacingAndGlyphs">43.50%</text>
<text x="1369.5" y="532.0" font-size="30.5" text-anchor="middle" fill="#ffffff" font-weight="bold" textLength="102.0" lengthAdjust="spacingAndGlyphs">30.50%</text>
<text x="1059.0" y="651.4" font-size="25.5" text-anchor="middle" fill="#2b2b2b" textLength="97.0" lengthAdjust="spacingAndGlyphs">Females</text>
<text x="1370.0" y="651.4" font-size="25.5" text-anchor="middle" fill="#2b2b2b" textLength="71.0" lengthAdjust="spacingAndGlyphs">Males</text>
<rect x="799.7" y="689.6" width="16" height="17.8" fill="#000" stroke="#000" stroke-width="2"/>
<text y="707.0" font-size="25.5" fill="#2b2b2b"><tspan x="823.5" textLength="114.6" lengthAdjust="spacingAndGlyphs">Quadrant</tspan> <tspan x="944.0" textLength="24.5" lengthAdjust="spacingAndGlyphs">IV</tspan></text>
<rect x="986.0" y="689.6" width="16" height="17.8" fill="#7f7f7f" stroke="#000" stroke-width="2"/>
<rect x="987.7" y="691.3" width="12.6" height="14.4" fill="none" stroke="#a6a6a6" stroke-width="1.4"/>
<text y="707.0" font-size="25.5" fill="#2b2b2b"><tspan x="1010.3" textLength="114.6" lengthAdjust="spacingAndGlyphs">Quadrant</tspan> <tspan x="1131.2" textLength="22.4" lengthAdjust="spacingAndGlyphs">III</tspan></text>
<rect x="1171.5" y="689.6" width="16" height="17.8" fill="#d9d9d9" stroke="#000" stroke-width="2"/>
<rect x="1173.2" y="691.3" width="12.6" height="14.4" fill="none" stroke="#fff" stroke-width="1.4"/>
<text y="707.0" font-size="25.5" fill="#2b2b2b"><tspan x="1194.5" textLength="114.6" lengthAdjust="spacingAndGlyphs">Quadrant</tspan> <tspan x="1315.0" textLength="15.5" lengthAdjust="spacingAndGlyphs">II</tspan></text>
<rect x="1348.5" y="689.6" width="16" height="17.8" fill="#fff" stroke="#000" stroke-width="2"/>
<text y="707.0" font-size="25.5" fill="#2b2b2b"><tspan x="1371.8" textLength="114.6" lengthAdjust="spacingAndGlyphs">Quadrant</tspan> <tspan x="1492.1" textLength="7.8" lengthAdjust="spacingAndGlyphs">I</tspan></text>
<text x="757.5" y="31.3" font-size="26.6" text-anchor="start" fill="#000" font-weight="bold">B</text>
</g>
</svg></body></html>
